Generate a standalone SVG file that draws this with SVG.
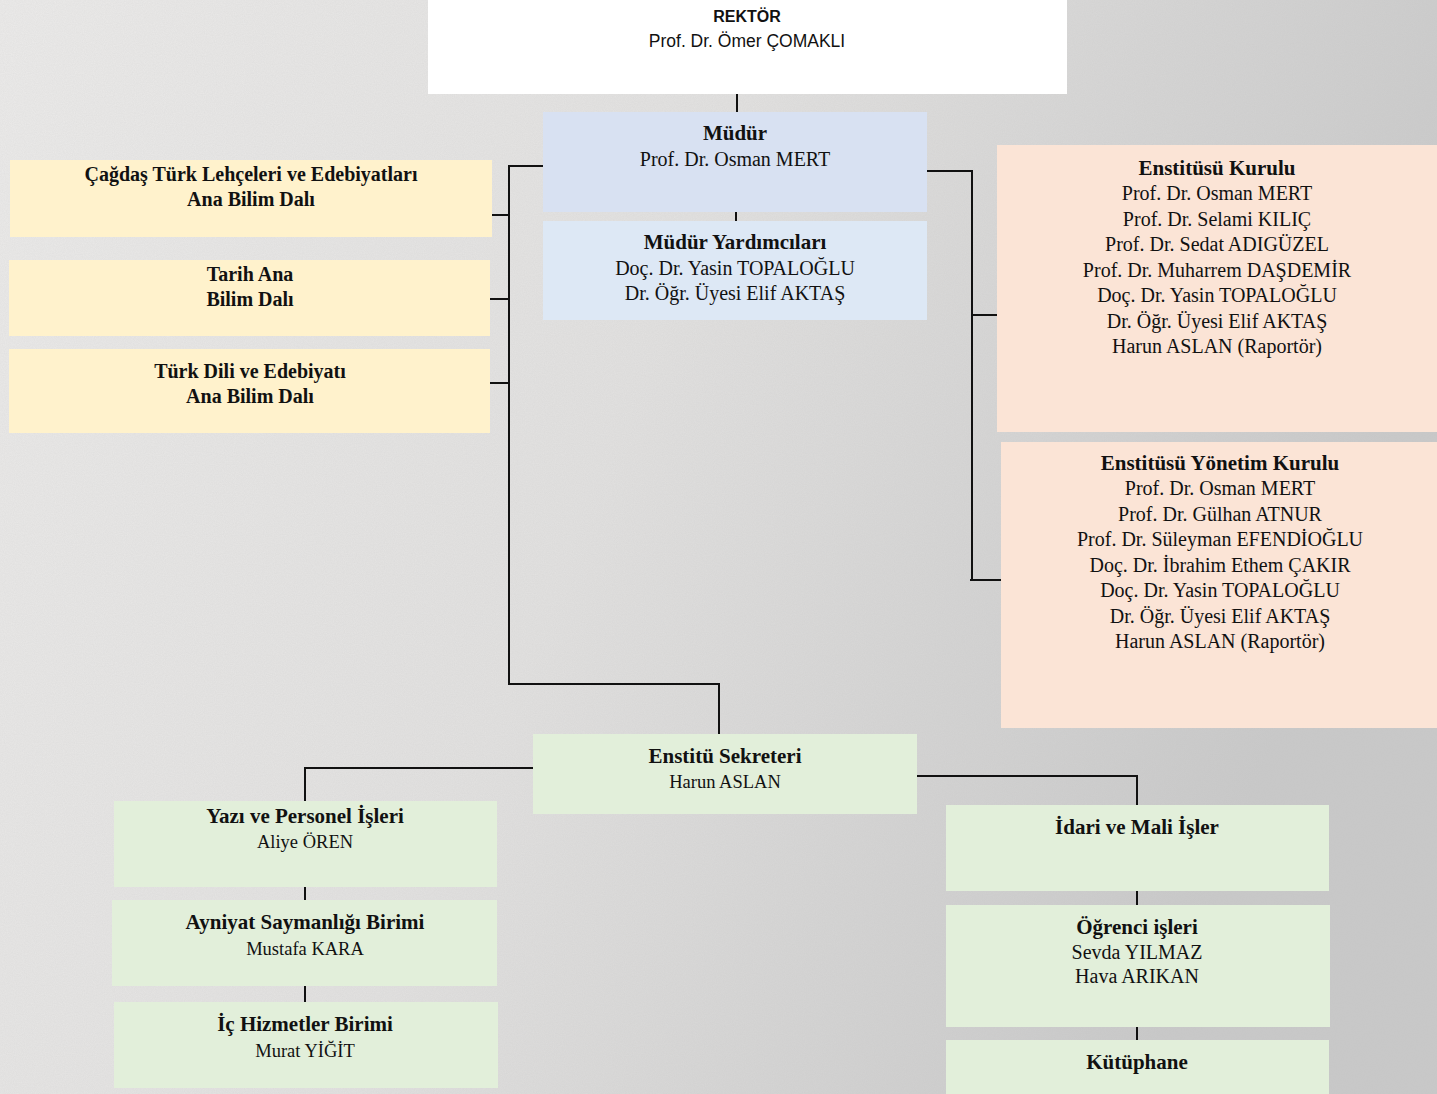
<svg xmlns="http://www.w3.org/2000/svg" width="1437" height="1094" viewBox="0 0 1437 1094">
<defs>
<linearGradient id="bg" x1="0" y1="0" x2="1" y2="0.3">
<stop offset="0" stop-color="#ecebea"/>
<stop offset="0.5" stop-color="#e2e1e0"/>
<stop offset="1" stop-color="#c9c9c9"/>
</linearGradient>
<filter id="noise" x="0" y="0" width="100%" height="100%">
<feTurbulence type="fractalNoise" baseFrequency="0.9" numOctaves="2" seed="3" result="n"/>
<feColorMatrix type="matrix" values="0 0 0 0 0.5  0 0 0 0 0.5  0 0 0 0 0.5  0 0 0 0.2 0"/>
</filter>
</defs>
<style>
.t{font-family:"Liberation Serif","DejaVu Serif",serif;font-size:20px;fill:#111;text-anchor:middle}
.b{font-weight:bold;font-size:21px}
.y{font-size:20px}
.s{font-family:"Liberation Sans","DejaVu Sans",sans-serif;font-size:17.5px;fill:#111;text-anchor:middle}
.n{font-size:18.5px}
.ln{stroke:#111;stroke-width:2;fill:none}
.white{fill:#ffffff}
.blue1{fill:#d8e1f2}
.blue2{fill:#dde8f5}
.yel{fill:#fff2cc}
.peach{fill:#fbe4d6}
.green{fill:#e2efda}
</style>
<rect x="0" y="0" width="1437" height="1094" fill="url(#bg)"/>
<rect x="0" y="0" width="1437" height="1094" filter="url(#noise)"/>

<g id="connectors">
<path class="ln" d="M737 94V112"/>
<path class="ln" d="M736 212V221"/>
<path class="ln" d="M543 166H509V684H719V734"/>
<path class="ln" d="M491 215H509M490 299H509M490 383H509"/>
<path class="ln" d="M927 171H972V580"/>
<path class="ln" d="M972 315H997M970 580H1001"/>
<path class="ln" d="M533 768H305V801"/>
<path class="ln" d="M305 887V900M305 986V1002"/>
<path class="ln" d="M917 776H1137V805"/>
<path class="ln" d="M1137 891V905M1137 1027V1040"/>
</g>

<g id="rektor">
<rect class="white" x="428" y="0" width="639" height="94"/>
<text class="s" x="747" y="22" style="font-size:16px;font-weight:bold">REKTÖR</text>
<text class="s" x="747" y="47">Prof. Dr. Ömer ÇOMAKLI</text>
</g>

<g id="mudur">
<rect class="blue1" x="543" y="112" width="384" height="100"/>
<text class="t b" x="735" y="140">Müdür</text>
<text class="t" x="735" y="166">Prof. Dr. Osman MERT</text>
</g>

<g id="mudur-yardimcilari">
<rect class="blue2" x="543" y="221" width="384" height="99"/>
<text class="t b" x="735" y="249">Müdür Yardımcıları</text>
<text class="t" x="735" y="275">Doç. Dr. Yasin TOPALOĞLU</text>
<text class="t" x="735" y="300">Dr. Öğr. Üyesi Elif AKTAŞ</text>
</g>

<g id="cagdas">
<rect class="yel" x="10" y="160" width="482" height="77"/>
<text class="t b y" x="251" y="181">Çağdaş Türk Lehçeleri ve Edebiyatları</text>
<text class="t b y" x="251" y="206">Ana Bilim Dalı</text>
</g>

<g id="tarih">
<rect class="yel" x="9" y="260" width="481" height="76"/>
<text class="t b y" x="250" y="281">Tarih Ana</text>
<text class="t b y" x="250" y="306">Bilim Dalı</text>
</g>

<g id="turk-dili">
<rect class="yel" x="9" y="349" width="481" height="84"/>
<text class="t b y" x="250" y="378">Türk Dili ve Edebiyatı</text>
<text class="t b y" x="250" y="403">Ana Bilim Dalı</text>
</g>

<g id="enstitu-kurulu">
<rect class="peach" x="997" y="145" width="440" height="287"/>
<text class="t b" x="1217" y="175">Enstitüsü Kurulu</text>
<text class="t" x="1217" y="200">Prof. Dr. Osman MERT</text>
<text class="t" x="1217" y="226">Prof. Dr. Selami KILIÇ</text>
<text class="t" x="1217" y="251">Prof. Dr. Sedat ADIGÜZEL</text>
<text class="t" x="1217" y="277">Prof. Dr. Muharrem DAŞDEMİR</text>
<text class="t" x="1217" y="302">Doç. Dr. Yasin TOPALOĞLU</text>
<text class="t" x="1217" y="328">Dr. Öğr. Üyesi Elif AKTAŞ</text>
<text class="t" x="1217" y="353">Harun ASLAN (Raportör)</text>
</g>

<g id="yonetim-kurulu">
<rect class="peach" x="1001" y="442" width="436" height="286"/>
<text class="t b" x="1220" y="470">Enstitüsü Yönetim Kurulu</text>
<text class="t" x="1220" y="495">Prof. Dr. Osman MERT</text>
<text class="t" x="1220" y="521">Prof. Dr. Gülhan ATNUR</text>
<text class="t" x="1220" y="546">Prof. Dr. Süleyman EFENDİOĞLU</text>
<text class="t" x="1220" y="572">Doç. Dr. İbrahim Ethem ÇAKIR</text>
<text class="t" x="1220" y="597">Doç. Dr. Yasin TOPALOĞLU</text>
<text class="t" x="1220" y="623">Dr. Öğr. Üyesi Elif AKTAŞ</text>
<text class="t" x="1220" y="648">Harun ASLAN (Raportör)</text>
</g>

<g id="sekreter">
<rect class="green" x="533" y="734" width="384" height="80"/>
<text class="t b" x="725" y="763">Enstitü Sekreteri</text>
<text class="t n" x="725" y="788">Harun ASLAN</text>
</g>

<g id="yazi-personel">
<rect class="green" x="114" y="801" width="383" height="86"/>
<text class="t b" x="305" y="823">Yazı ve Personel İşleri</text>
<text class="t n" x="305" y="848">Aliye ÖREN</text>
</g>

<g id="ayniyat">
<rect class="green" x="112" y="900" width="385" height="86"/>
<text class="t b" x="305" y="929">Ayniyat Saymanlığı Birimi</text>
<text class="t n" x="305" y="955">Mustafa KARA</text>
</g>

<g id="ic-hizmetler">
<rect class="green" x="114" y="1002" width="384" height="86"/>
<text class="t b" x="305" y="1031">İç Hizmetler Birimi</text>
<text class="t n" x="305" y="1057">Murat YİĞİT</text>
</g>

<g id="idari-mali">
<rect class="green" x="946" y="805" width="383" height="86"/>
<text class="t b" x="1137" y="834">İdari ve Mali İşler</text>
</g>

<g id="ogrenci">
<rect class="green" x="946" y="905" width="384" height="122"/>
<text class="t b" x="1137" y="934">Öğrenci işleri</text>
<text class="t" x="1137" y="959">Sevda YILMAZ</text>
<text class="t" x="1137" y="983">Hava ARIKAN</text>
</g>

<g id="kutuphane">
<rect class="green" x="946" y="1040" width="383" height="54"/>
<text class="t b" x="1137" y="1069">Kütüphane</text>
</g>
</svg>
